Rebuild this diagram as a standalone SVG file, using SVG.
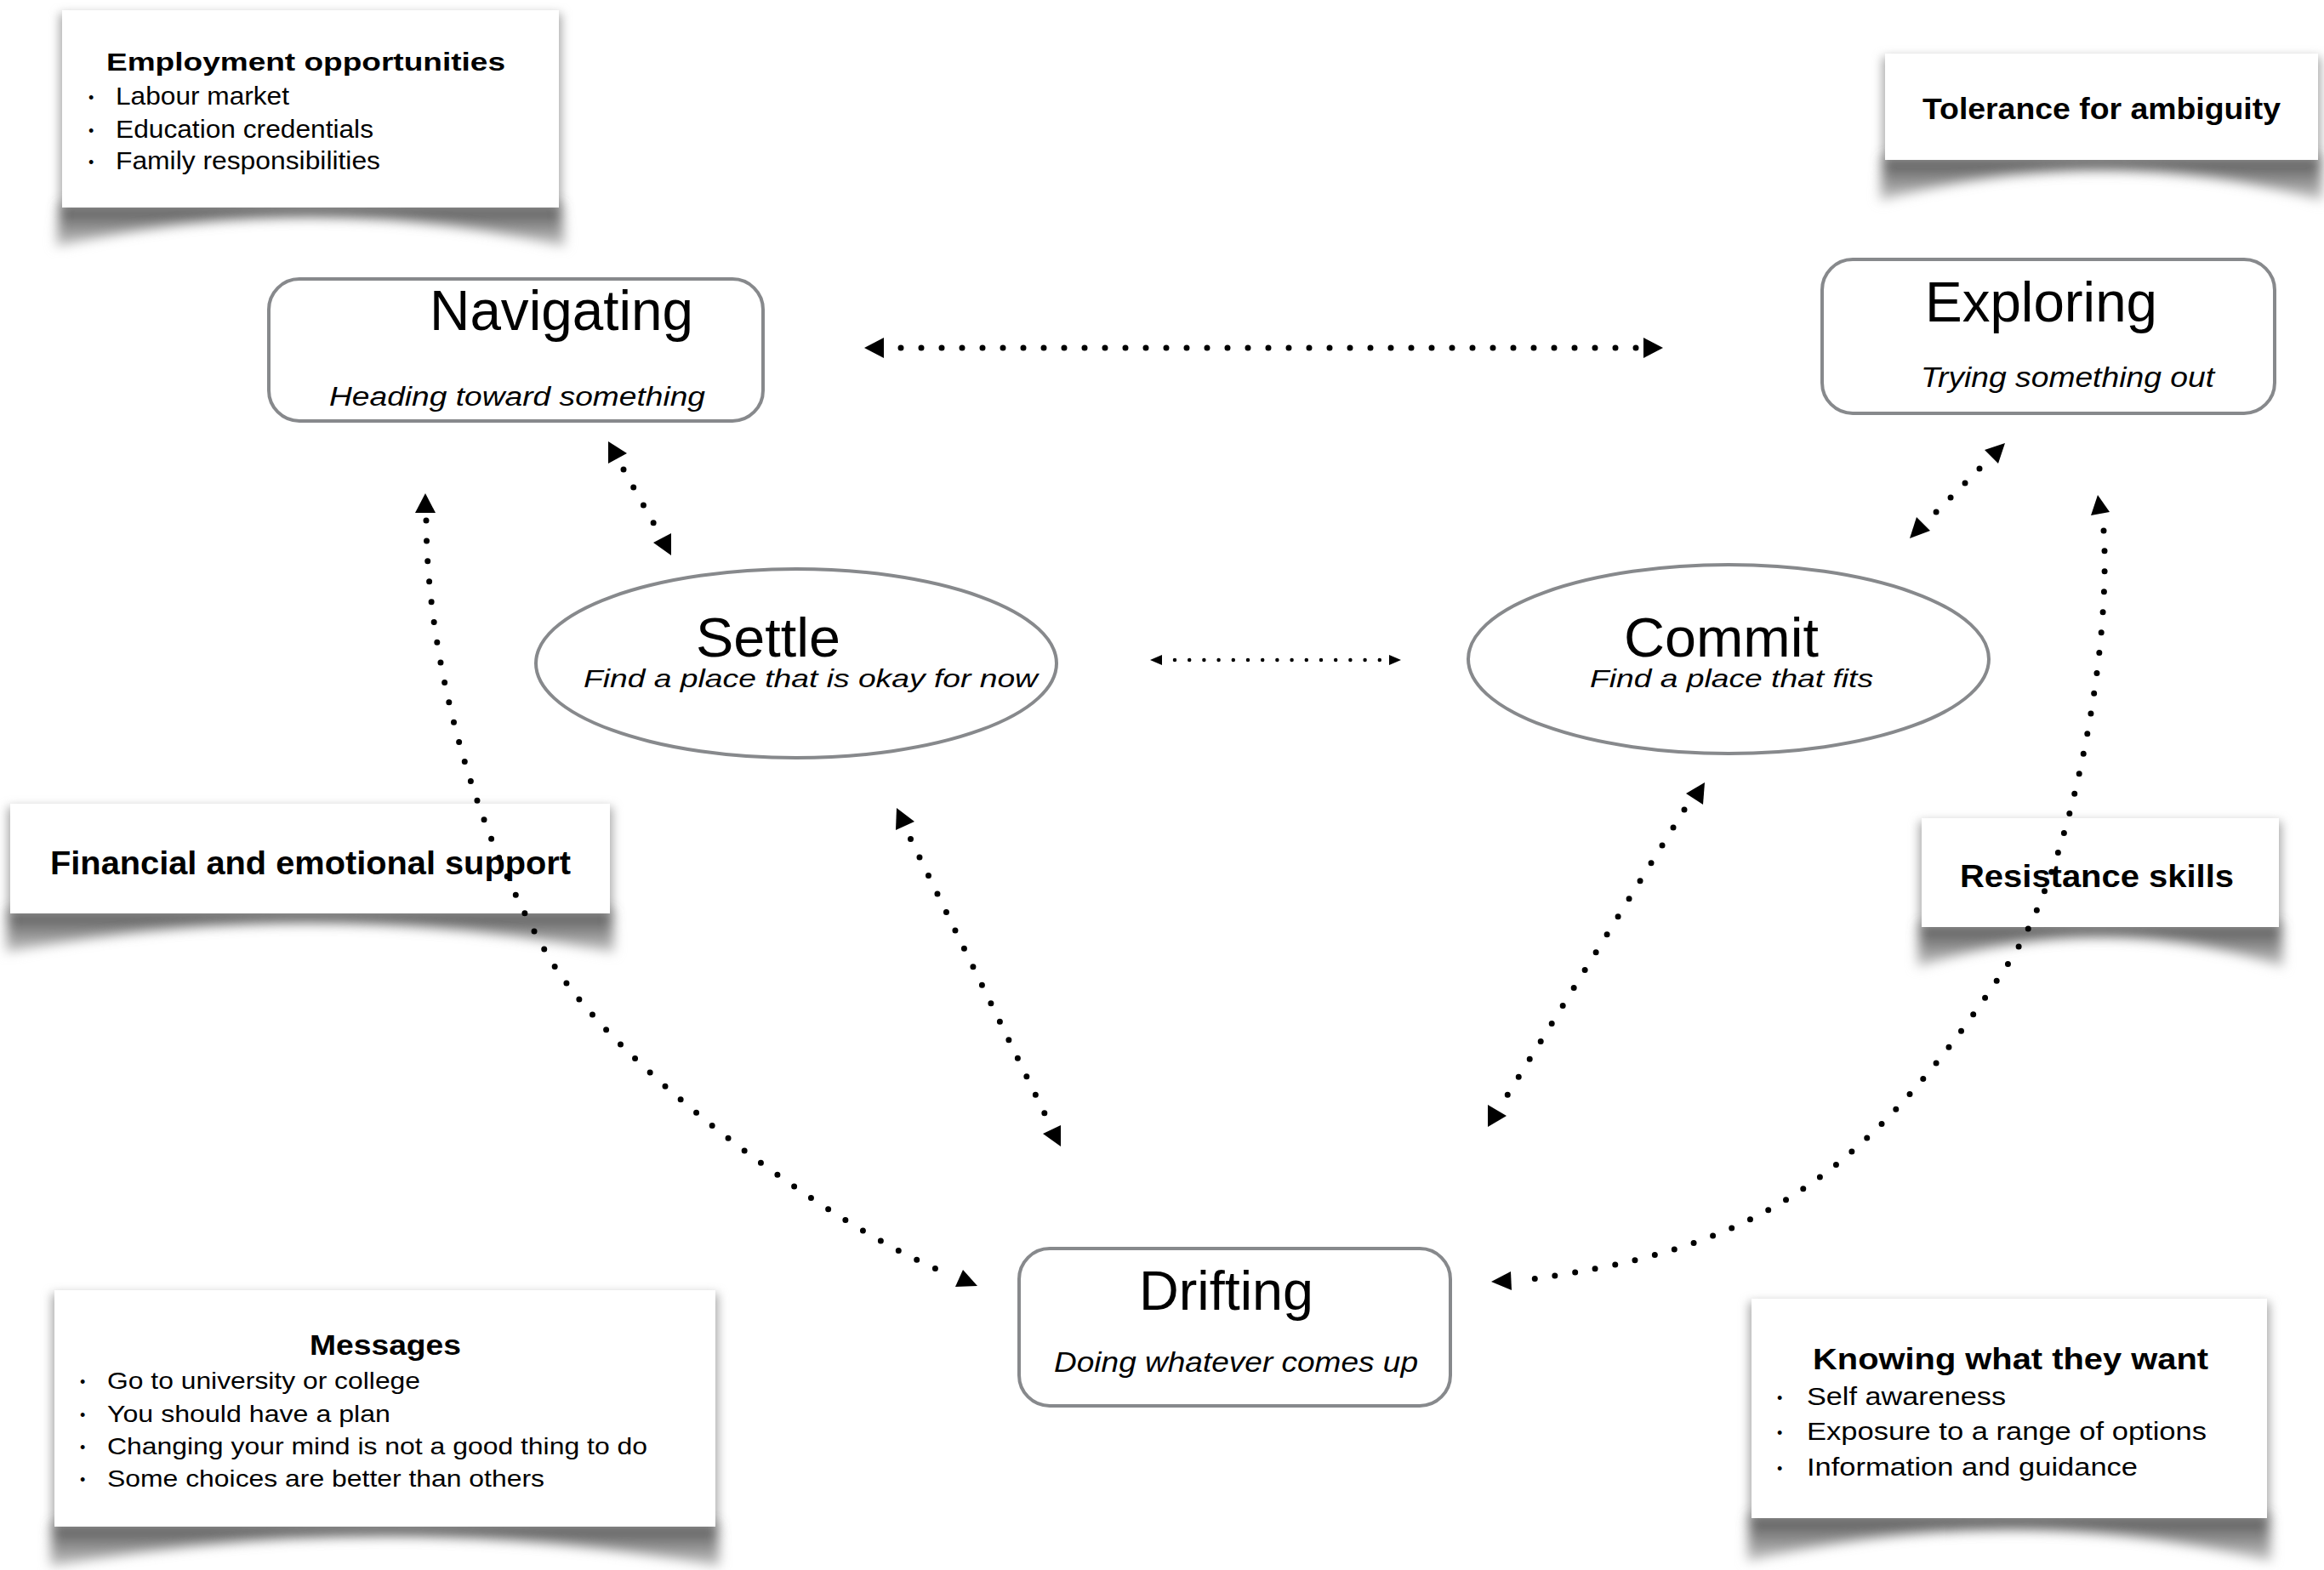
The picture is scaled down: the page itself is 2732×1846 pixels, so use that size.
<svg xmlns="http://www.w3.org/2000/svg" width="2732" height="1846" viewBox="0 0 2732 1846">
<defs>
<style>
.t{font-family:"Liberation Sans",Arial,sans-serif;fill:#000}
.b{font-weight:bold}
.i{font-style:italic}
.node{fill:#fff;stroke:#87898c;stroke-width:4}
.card{fill:#fff}
.side{fill:#a8a8a8;filter:url(#soft)}
.curl{fill:url(#curlg);filter:url(#blur)}
.dots{fill:none;stroke:#000;stroke-width:7;stroke-linecap:round;stroke-dasharray:0 24}
.dots-s{fill:none;stroke:#000;stroke-width:4.5;stroke-linecap:round;stroke-dasharray:0 17.2}
.ah{fill:#000}
</style>
<filter id="blur" x="-10%" y="-60%" width="120%" height="220%"><feGaussianBlur stdDeviation="7"/></filter>
<filter id="soft" x="-10%" y="-20%" width="120%" height="140%"><feGaussianBlur stdDeviation="6"/></filter>
<linearGradient id="curlg" x1="0" y1="0" x2="0" y2="1">
<stop offset="0" stop-color="#505050"/>
<stop offset="0.5" stop-color="#8a8a8a"/>
<stop offset="1" stop-color="#c8c8c8"/>
</linearGradient>
</defs>
<rect width="2732" height="1846" fill="#fff"/>

<!-- callout cards -->
<g id="employment">
<rect class="side" x="70" y="16" width="590" height="228"/>
<path class="curl" d="M70,240 L660,240 L664,290 Q365,220 66,290 Z"/>
<rect class="card" x="73" y="12" width="584" height="232"/>
<text class="t b" x="125" y="83" font-size="30" textLength="469" lengthAdjust="spacingAndGlyphs">Employment opportunities</text>
<text class="t" x="104" y="121" font-size="18">•</text>
<text class="t" x="136" y="123" font-size="29" textLength="204" lengthAdjust="spacingAndGlyphs">Labour market</text>
<text class="t" x="104" y="160" font-size="18">•</text>
<text class="t" x="136" y="162" font-size="29" textLength="303" lengthAdjust="spacingAndGlyphs">Education credentials</text>
<text class="t" x="104" y="197" font-size="18">•</text>
<text class="t" x="136" y="199" font-size="29" textLength="311" lengthAdjust="spacingAndGlyphs">Family responsibilities</text>
</g>

<g id="tolerance">
<rect class="side" x="2213" y="67" width="515" height="121"/>
<path class="curl" d="M2213,184 L2728,184 L2730,236 Q2470,164 2210,236 Z"/>
<rect class="card" x="2216" y="63" width="509" height="125"/>
<text class="t b" x="2260" y="140" font-size="35" textLength="421" lengthAdjust="spacingAndGlyphs">Tolerance for ambiguity</text>
</g>

<g id="financial">
<rect class="side" x="9" y="949" width="711" height="125"/>
<path class="curl" d="M9,1070 L720,1070 L722,1120 Q365,1050 7,1120 Z"/>
<rect class="card" x="12" y="945" width="705" height="129"/>
<text class="t b" x="59" y="1028" font-size="39" textLength="612" lengthAdjust="spacingAndGlyphs">Financial and emotional support</text>
</g>

<g id="resistance">
<rect class="side" x="2256" y="966" width="426" height="124"/>
<path class="curl" d="M2256,1086 L2682,1086 L2684,1137 Q2469,1066 2254,1137 Z"/>
<rect class="card" x="2259" y="962" width="420" height="128"/>
<text class="t b" x="2304" y="1043" font-size="37" textLength="322" lengthAdjust="spacingAndGlyphs">Resistance skills</text>
</g>

<g id="messages">
<rect class="side" x="61" y="1521" width="783" height="274"/>
<path class="curl" d="M61,1791 L844,1791 L846,1842 Q452,1770 59,1842 Z"/>
<rect class="card" x="64" y="1517" width="777" height="278"/>
<text class="t b" x="364" y="1593" font-size="33" textLength="178" lengthAdjust="spacingAndGlyphs">Messages</text>
<text class="t" x="94" y="1631" font-size="18">•</text>
<text class="t" x="126" y="1633" font-size="28" textLength="368" lengthAdjust="spacingAndGlyphs">Go to university or college</text>
<text class="t" x="94" y="1670" font-size="18">•</text>
<text class="t" x="126" y="1672" font-size="28" textLength="333" lengthAdjust="spacingAndGlyphs">You should have a plan</text>
<text class="t" x="94" y="1708" font-size="18">•</text>
<text class="t" x="126" y="1710" font-size="28" textLength="635" lengthAdjust="spacingAndGlyphs">Changing your mind is not a good thing to do</text>
<text class="t" x="94" y="1746" font-size="18">•</text>
<text class="t" x="126" y="1748" font-size="28" textLength="514" lengthAdjust="spacingAndGlyphs">Some choices are better than others</text>
</g>

<g id="knowing">
<rect class="side" x="2056" y="1531" width="612" height="254"/>
<path class="curl" d="M2056,1781 L2668,1781 L2670,1836 Q2362,1761 2054,1836 Z"/>
<rect class="card" x="2059" y="1527" width="606" height="258"/>
<text class="t b" x="2131" y="1610" font-size="35" textLength="465" lengthAdjust="spacingAndGlyphs">Knowing what they want</text>
<text class="t" x="2089" y="1650" font-size="18">•</text>
<text class="t" x="2124" y="1652" font-size="30" textLength="234" lengthAdjust="spacingAndGlyphs">Self awareness</text>
<text class="t" x="2089" y="1691" font-size="18">•</text>
<text class="t" x="2124" y="1693" font-size="30" textLength="470" lengthAdjust="spacingAndGlyphs">Exposure to a range of options</text>
<text class="t" x="2089" y="1733" font-size="18">•</text>
<text class="t" x="2124" y="1735" font-size="30" textLength="389" lengthAdjust="spacingAndGlyphs">Information and guidance</text>
</g>

<!-- state nodes -->
<g id="navigating">
<rect class="node" x="316" y="328" width="581" height="167" rx="36"/>
<text class="t" x="505" y="388" font-size="67" textLength="310" lengthAdjust="spacingAndGlyphs">Navigating</text>
<text class="t i" x="387" y="477" font-size="31" textLength="442" lengthAdjust="spacingAndGlyphs">Heading toward something</text>
</g>

<g id="exploring">
<rect class="node" x="2142" y="305" width="532" height="181" rx="36"/>
<text class="t" x="2263" y="378" font-size="67" textLength="273" lengthAdjust="spacingAndGlyphs">Exploring</text>
<text class="t i" x="2258" y="455" font-size="33" textLength="345" lengthAdjust="spacingAndGlyphs">Trying something out</text>
</g>

<g id="settle">
<ellipse class="node" cx="936" cy="780" rx="306" ry="111"/>
<text class="t" x="818" y="772" font-size="65" textLength="170" lengthAdjust="spacingAndGlyphs">Settle</text>
<text class="t i" x="686" y="808" font-size="30" textLength="534" lengthAdjust="spacingAndGlyphs">Find a place that is okay for now</text>
</g>

<g id="commit">
<ellipse class="node" cx="2032" cy="775" rx="306" ry="111"/>
<text class="t" x="1909" y="772" font-size="65" textLength="229" lengthAdjust="spacingAndGlyphs">Commit</text>
<text class="t i" x="1869" y="808" font-size="30" textLength="333" lengthAdjust="spacingAndGlyphs">Find a place that fits</text>
</g>

<g id="drifting">
<rect class="node" x="1198" y="1468" width="507" height="185" rx="36"/>
<text class="t" x="1339" y="1540" font-size="65" textLength="205" lengthAdjust="spacingAndGlyphs">Drifting</text>
<text class="t i" x="1239" y="1613" font-size="33" textLength="428" lengthAdjust="spacingAndGlyphs">Doing whatever comes up</text>
</g>

<!-- connectors -->
<g id="connectors">
<path class="dots" d="M1059,409 H1923.5"/>
<polygon class="ah" points="1016,409 1039,397 1039,421"/>
<polygon class="ah" points="1955,409 1932,397 1932,421"/>

<path class="dots" d="M733,552 L768.5,615.5"/>
<polygon class="ah" points="715,519 715,545 737,533"/>
<polygon class="ah" points="768,638 789,627 789,653"/>

<path class="dots-s" d="M1381,776 H1622.5"/>
<polygon class="ah" points="1352,776 1366,770 1366,782"/>
<polygon class="ah" points="1647,776 1633,770 1633,782"/>

<path class="dots" d="M2327,551 L2275.5,602.5"/>
<polygon class="ah" points="2357,521 2333,529 2349,545"/>
<polygon class="ah" points="2245,633 2253,608 2269,624"/>

<path class="dots" style="stroke-dasharray:0 23.9" d="M1070.5,986.5 L1228.5,1310"/>
<polygon class="ah" points="1054,950 1075,966 1053,976"/>
<polygon class="ah" points="1226,1333 1247,1323 1247,1348"/>

<path class="dots" style="stroke-dasharray:0 24.65" d="M1980,952 L1771.5,1288.5"/>
<polygon class="ah" points="2004,920 2002,946 1982,933"/>
<polygon class="ah" points="1749,1299 1749,1325 1771,1312"/>

<path class="dots" d="M501,612 C502,770 553,970 645,1125 C720.6,1252.5 974.4,1440.4 1108,1495"/>
<polygon class="ah" points="500,580 488,603 512,603"/>
<polygon class="ah" points="1123,1513 1132,1493 1149,1512"/>

<path class="dots" d="M2473,624 C2482,760 2438,1014 2364,1128 C2183.5,1404.5 2043.8,1472.1 1786,1506"/>
<polygon class="ah" points="2466,582 2458,606 2480,602"/>
<polygon class="ah" points="1753,1507 1776,1495 1777,1517"/>
</g>
</svg>
